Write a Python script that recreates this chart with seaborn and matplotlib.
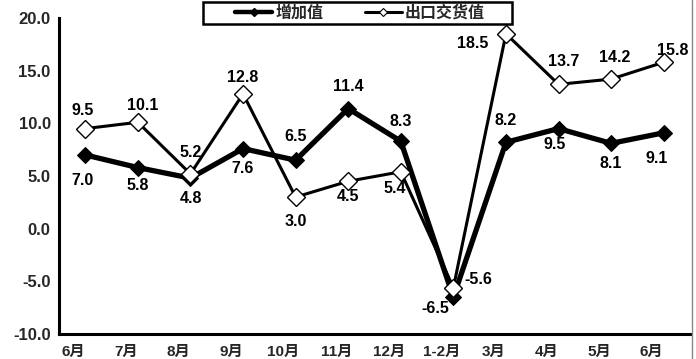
import matplotlib
matplotlib.use("Agg")
import matplotlib.pyplot as plt
import matplotlib.transforms as mtransforms
from matplotlib.lines import Line2D
from matplotlib.patches import Rectangle
import seaborn as sns
import pandas as pd
import numpy as np

categories = ["6月", "7月", "8月", "9月", "10月", "11月", "12月", "1-2月", "3月", "4月", "5月", "6月"]
added_value = [7.0, 5.8, 4.8, 7.6, 6.5, 11.4, 8.3, -6.5, 8.2, 9.5, 8.1, 9.1]
export_value = [9.5, 10.1, 5.2, 12.8, 3.0, 4.5, 5.4, -5.6, 18.5, 13.7, 14.2, 15.8]
series_names = ["增加值", "出口交货值"]
y_ticks = [-10.0, -5.0, 0.0, 5.0, 10.0, 15.0, 20.0]

# label offsets in pixels (layout only)
off_added = [(-3, -26), (0, -18), (0, -20), (0, -20), (0, 24), (0, 22), (0, 20),
             (-18, -11), (0, 22), (-4, -16), (0, -20), (-7, -26)]
off_export = [(-3, 18), (5, 17), (0, 21), (0, 16), (0, -24), (0, -15), (-6, -17),
              (25, 8), (-33, -10), (5, 23), (4, 22), (9, 12)]

sns.set_theme(style="white")
plt.rcParams['font.family'] = ['Liberation Sans', 'Noto Sans CJK SC', 'DejaVu Sans']
plt.rcParams['font.weight'] = 'bold'

fig = plt.figure(figsize=(6.96, 3.59), dpi=100)
ax = fig.add_axes([59/696, 25/359, (690-59)/696, (334-18)/359])

x = np.arange(len(categories))
df = pd.DataFrame({"x": np.concatenate([x, x]),
                   "y": added_value + export_value,
                   "series": [series_names[0]]*len(x) + [series_names[1]]*len(x)})

sns.lineplot(data=df[df.series == series_names[0]], x="x", y="y", ax=ax,
             color="black", linewidth=3.8, marker="D", markersize=8,
             markerfacecolor="black", markeredgecolor="black", legend=False, zorder=3)
sns.lineplot(data=df[df.series == series_names[1]], x="x", y="y", ax=ax,
             color="black", linewidth=2.2, marker="D", markersize=9,
             markerfacecolor="white", markeredgecolor="black", markeredgewidth=1.0,
             legend=False, zorder=4)

for xi, v, o in zip(x, added_value, off_added):
    ax.annotate(f"{v:.1f}", (xi, v), xytext=o, textcoords="offset pixels",
                ha="center", va="center", fontsize=11.5, fontweight="bold", color="black")
for xi, v, o in zip(x, export_value, off_export):
    ax.annotate(f"{v:.1f}", (xi, v), xytext=o, textcoords="offset pixels",
                ha="center", va="center", fontsize=11.5, fontweight="bold", color="black")

ax.set_xlim(-0.5, len(categories) - 0.5)
ax.set_ylim(-10, 20)
ax.set_yticks(y_ticks)
ax.set_yticklabels([f"{t:.1f}" for t in y_ticks], fontsize=12, fontweight="bold")
ax.set_xticks(x)
ax.set_xticklabels(categories, fontsize=11, fontweight="bold")
ax.set_xticks(np.arange(-0.5, len(categories)), minor=True)
ax.tick_params(axis="x", which="major", length=0, pad=8)
ax.tick_params(axis="x", which="minor", length=5, width=1.5, direction="inout", color="black")
ax.tick_params(axis="y", which="major", length=5, width=1.5, direction="in", color="black", pad=6)
ax.set_xlabel("")
ax.set_ylabel("")

shift = mtransforms.ScaledTranslation(-12/100, 0, fig.dpi_scale_trans)
for lbl in ax.get_xticklabels():
    lbl.set_transform(lbl.get_transform() + shift)

for s in ["top", "right"]:
    ax.spines[s].set_visible(False)
for s in ["left", "bottom"]:
    ax.spines[s].set_color("black")
    ax.spines[s].set_linewidth(2.2)
ax.grid(False)

handles = [Line2D([], [], color="black", linewidth=3.2, marker="D", markersize=4,
                  markerfacecolor="black", markeredgecolor="black"),
           Line2D([], [], color="black", linewidth=2.2, marker="D", markersize=4,
                  markerfacecolor="white", markeredgecolor="black", markeredgewidth=0.8)]
leg = fig.legend(handles, series_names, loc="center", ncol=2,
                 bbox_to_anchor=(360/696, 1 - 13/359), frameon=False,
                 handlelength=2.3, handletextpad=0.2,
                 columnspacing=2.6, borderpad=0.0, borderaxespad=0,
                 prop={"weight": "bold", "size": 11.5})
fig.add_artist(Rectangle((203/696, 1 - 24/359), (512-203)/696, 22/359,
                         transform=fig.transFigure, fill=False,
                         edgecolor="black", linewidth=1.8))

fig.add_artist(Line2D([692/696, 692/696], [0, 1], transform=fig.transFigure,
                      color="#888888", linewidth=1.0))

fig.savefig("out.png", dpi=100, facecolor="white")
